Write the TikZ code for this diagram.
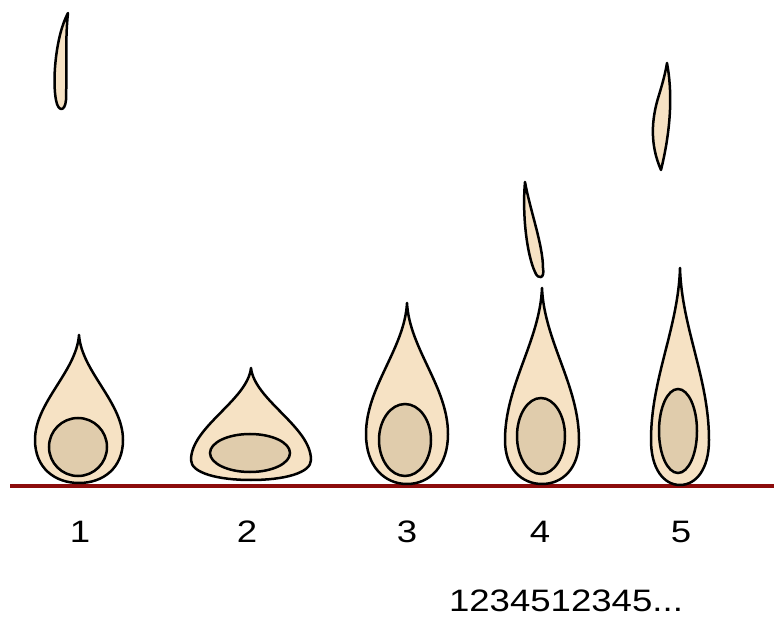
\documentclass[tikz,border=0pt]{standalone}
\usepackage{fontspec}
\newfontfamily\labfont[FakeStretch=1.18]{Liberation Sans}
\definecolor{cyto}{RGB}{246,226,196}
\definecolor{nucl}{RGB}{224,204,172}
\definecolor{ground}{RGB}{140,12,12}

\begin{document}
\begin{tikzpicture}[x=1pt, y=-1pt,
      cell/.style = {draw=black, line width=2.5pt, fill=cyto, line join=round},
      nucleus/.style = {draw=black, line width=2.5pt, fill=nucl},
      lab/.style = {anchor=base, inner sep=0pt,
        font=\labfont\fontsize{31}{35}\selectfont}]
  \useasboundingbox (0,0) rectangle (774,617);

  % ground line
  \draw[ground, line width=4pt] (10,486) -- (774,486);

  % cell bodies: centre x / tip y / half width / widest y / bottom y
  \foreach \cx/\ty/\w/\wy/\by in {79/335/44/440/483, 251/368/60/460/480,
      407/303/41/434/484, 542/288/37/440/484, 680/268/29/440/485}
    \draw[cell] (\cx,\ty)
      .. controls ({\cx+0.06*\w},{\ty+0.35*(\wy-\ty)}) and ({\cx+\w},{\wy-0.36*(\wy-\ty)}) .. ({\cx+\w},\wy)
      .. controls ({\cx+\w},{\wy+0.65*(\by-\wy)}) and ({\cx+0.55*\w},\by) .. (\cx,\by)
      .. controls ({\cx-0.55*\w},\by) and ({\cx-\w},{\wy+0.65*(\by-\wy)}) .. ({\cx-\w},\wy)
      .. controls ({\cx-\w},{\wy-0.36*(\wy-\ty)}) and ({\cx-0.06*\w},{\ty+0.35*(\wy-\ty)}) .. cycle;

  % nuclei
  \foreach \cx/\cy/\rx/\ry in {78/447/29/29, 250/453/40/19, 405/440/26/36,
      541/436/24/38, 678/431/19/42}
    \draw[nucleus] (\cx,\cy) ellipse [x radius=\rx pt, y radius=\ry pt];

  % pinched-off tips
  \draw[cell] (68,13) .. controls (56,35) and (52,80) .. (56,100)
    .. controls (58,112) and (65,112) .. (66,100)
    .. controls (67,70) and (65,40) .. cycle;
  \draw[cell] (525,182) .. controls (522,215) and (527,255) .. (535,272)
    .. controls (538,280) and (545,279) .. (543,268)
    .. controls (543,245) and (530,210) .. cycle;
  \draw[cell] (667,63) .. controls (672,90) and (672,125) .. (661,170)
    .. controls (650,145) and (651,120) .. (659,95)
    .. controls (662,85) and (665,75) .. cycle;

  % stage numbers
  \foreach \x/\n in {80/1, 247/2, 407/3, 540/4, 681/5}
    \node[lab] (stage\n) at (\x,542) {\n};
  \node[lab] (cycle) at (566,611) {1234512345...};
\end{tikzpicture}
\end{document}
